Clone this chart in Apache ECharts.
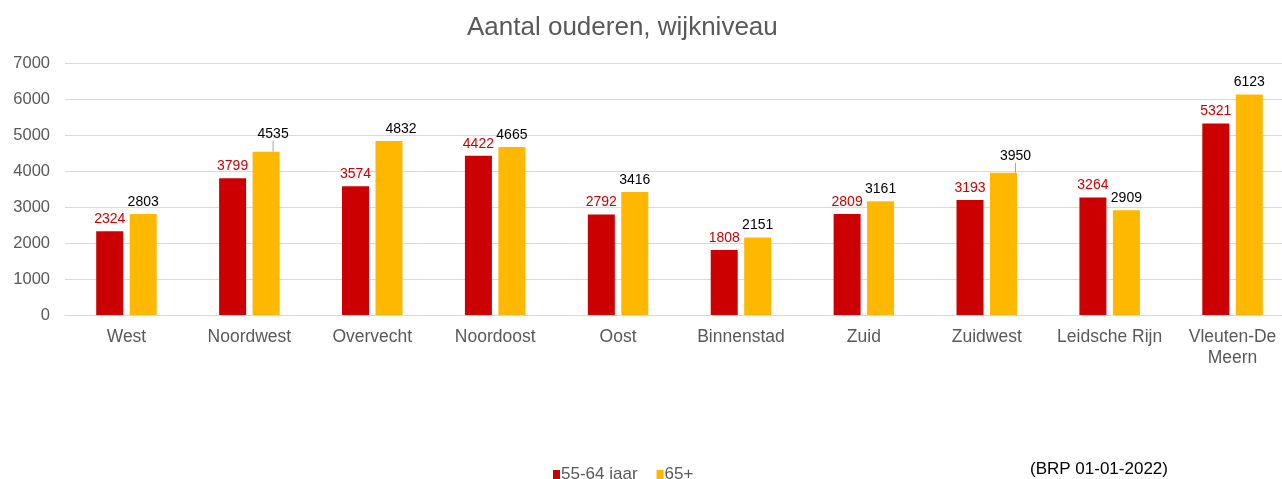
<!DOCTYPE html>
<html><head><meta charset="utf-8">
<script src="https://cdn.jsdelivr.net/npm/echarts@6/dist/echarts.min.js"></script>
<style>html,body{margin:0;padding:0;background:#fff}#c{width:1282px;height:479px}</style>
</head><body><div id="c"></div>
<script>
const categories = ['West','Noordwest','Overvecht','Noordoost','Oost','Binnenstad','Zuid','Zuidwest','Leidsche Rijn','Vleuten-De\nMeern'];
const s5564 = [2324,3799,3574,4422,2792,1808,2809,3193,3264,5321];
const s65 = [2803,4535,4832,4665,3416,2151,3161,3950,2909,6123];
const yTicks = [0,1000,2000,3000,4000,5000,6000,7000];
const seriesNames = ['55-64 jaar','65+'];
const title = 'Aantal ouderen, wijkniveau';
const source = '(BRP 01-01-2022)';

const FONT = '"Liberation Sans", Arial, sans-serif';
const GREY = '#595959';
const RED = '#CC0000', YEL = '#FFB800';
const chart = echarts.init(document.getElementById('c'));
const moved = {1:[7,-6], 2:[12,0], 7:[12,-5]};
const withLine = [1,7];
const s65data = s65.map((v,i)=> withLine.includes(i) ? {value:v,labelLine:{show:true}} : v);
chart.setOption({
  animation:false,
  title:{text:title,left:462,top:10,textStyle:{fontFamily:FONT,fontSize:26,fontWeight:'normal',color:GREY}},
  legend:{top:461,left:548,icon:'rect',itemWidth:7,itemHeight:9,itemGap:19,
    textStyle:{fontFamily:FONT,fontSize:17,color:GREY,padding:[0,0,0,-4]},
    data:seriesNames},
  graphic:[{type:'text',left:1030,top:461,style:{text:source,font:'17px "Liberation Sans", Arial, sans-serif',fill:'#000'}}],
  grid:{left:65,width:1229,top:63,bottom:164,containLabel:false,outerBoundsMode:'none'},
  xAxis:{type:'category',data:categories,axisLine:{show:true,lineStyle:{color:'#d9d9d9'}},axisTick:{show:false},
    axisLabel:{fontFamily:FONT,fontSize:17.5,color:GREY,margin:12,lineHeight:21,interval:0}},
  yAxis:{type:'value',min:0,max:7000,interval:1000,
    splitLine:{lineStyle:{color:'#d9d9d9'}},
    axisLabel:{fontFamily:FONT,fontSize:16.5,color:GREY,margin:15,formatter:v=>yTicks.includes(v)?String(v):''}},
  series:[
    {name:seriesNames[0],type:'bar',data:s5564,barWidth:27,barGap:'24%',itemStyle:{color:RED},
      label:{show:true,position:'top',distance:5,fontFamily:FONT,fontSize:14,color:RED}},
    {name:seriesNames[1],type:'bar',data:s65data,barWidth:27,itemStyle:{color:YEL},
      label:{show:true,position:'top',distance:5,fontFamily:FONT,fontSize:14,color:'#000'},
      labelLayout:function(p){const m=moved[p.dataIndex]; return m?{dx:m[0],dy:m[1]}:{};},
      labelLine:{show:false,lineStyle:{color:'#a6a6a6',width:1}}}
  ]
});
</script></body></html>
